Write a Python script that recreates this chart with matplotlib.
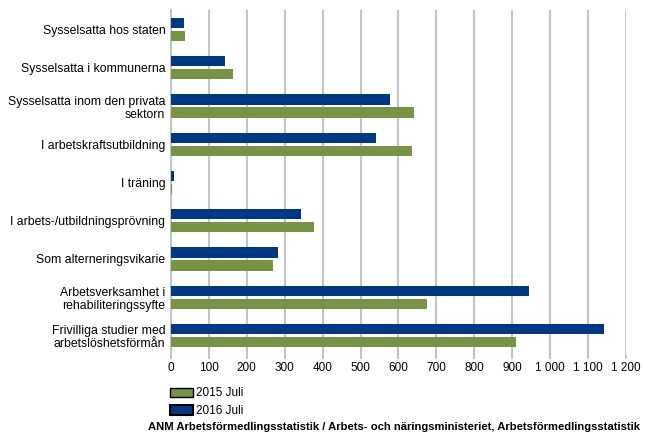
import numpy as np
import matplotlib.pyplot as plt
from matplotlib.patches import Patch

plt.rcParams['font.family'] = ['Liberation Sans', 'DejaVu Sans']

categories = ['Sysselsatta hos staten', 'Sysselsatta i kommunerna',
              'Sysselsatta inom den privata\nsektorn', 'I arbetskraftsutbildning',
              'I träning', 'I arbets-/utbildningsprövning', 'Som alterneringsvikarie',
              'Arbetsverksamhet i\nrehabiliteringssyfte',
              'Frivilliga studier med\narbetslöshetsförmån']
juli_2015 = [37, 164, 641, 636, 3, 377, 269, 675, 910]
juli_2016 = [34, 142, 578, 541, 8, 343, 282, 945, 1143]
xticks = [0, 100, 200, 300, 400, 500, 600, 700, 800, 900, 1000, 1100, 1200]
xtick_labels = ['0', '100', '200', '300', '400', '500', '600', '700', '800', '900',
                '1 000', '1 100', '1 200']

blue = '#003882'
green = '#779345'
grid_c = '#c4c4c4'

fig = plt.figure(figsize=(6.45, 4.34), dpi=100)
ax = fig.add_axes([0.265, 0.183, 0.7055, 0.793])

y = np.arange(len(categories))
h = 0.27
ax.barh(y - 0.17, juli_2016, height=h, color=blue, zorder=3)
ax.barh(y + 0.17, juli_2015, height=h, color=green, zorder=3)

ax.set_ylim(len(categories) - 0.5, -0.5)
ax.set_xlim(0, 1200)
ax.set_yticks(y)
ax.set_yticklabels(categories, fontsize=8.8, linespacing=1.15)
ax.set_xticks(xticks)
ax.set_xticklabels(xtick_labels, fontsize=8.5)
ax.tick_params(axis='y', length=0, pad=4)
ax.tick_params(axis='x', length=3, color=grid_c, width=1.5, pad=2)
ax.xaxis.grid(True, color=grid_c, linewidth=1.5, zorder=0)
for s in ['top', 'right', 'bottom']:
    ax.spines[s].set_visible(False)
ax.spines['left'].set_color(grid_c)
ax.spines['left'].set_linewidth(1.5)

handles = [Patch(facecolor=green, edgecolor='black', linewidth=1, label='2015 Juli'),
           Patch(facecolor=blue, edgecolor='black', linewidth=1.5, label='2016 Juli')]
fig.legend(handles=handles, loc='upper left', bbox_to_anchor=(0.254, 0.121),
           frameon=False, fontsize=8.5, handlelength=2.0, handleheight=0.85,
           handletextpad=0.2, labelspacing=0.5, borderpad=0)

fig.text(0.993, 0.005, 'ANM Arbetsförmedlingsstatistik / Arbets- och näringsministeriet, '
         'Arbetsförmedlingsstatistik', fontsize=8.1, fontweight='bold', ha='right', va='bottom')

fig.savefig('out.png', dpi=100)
